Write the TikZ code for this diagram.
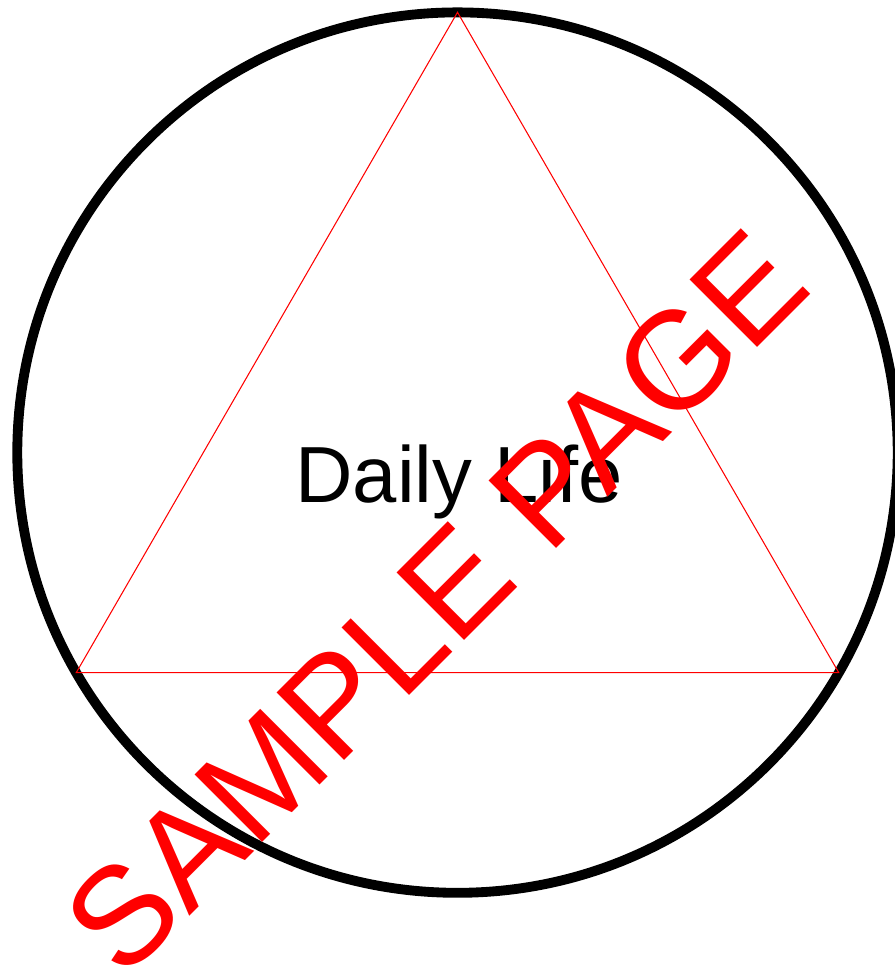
\documentclass[tikz,border=0pt]{standalone}
\usepackage{fontspec}
\setmainfont{Liberation Sans}
\begin{document}
\begin{tikzpicture}[x=0.02cm, y=-0.02cm]
    \useasboundingbox (0,0) rectangle (894,974);
    % Circle with its inscribed equilateral triangle.
    \coordinate (O) at (457.5,452.6);
    \coordinate (top) at (457.5,12.3);
    \coordinate (left) at (76.2,672.7);
    \coordinate (right) at (838.8,672.7);
    \draw[line width=5.6pt] (O) circle[radius=8.806cm];
    \draw[red, line width=0.6pt, line join=miter] (top) -- (left) -- (right) -- cycle;
    \node[anchor=base, inner sep=0pt, font=\fontsize{45.3}{50}\selectfont] (life) at (459,502) {Daily Life};
    % Watermark over the whole figure.
    \node[anchor=base, inner sep=0pt, rotate=45, text=red, font=\fontsize{79}{85}\selectfont] (sample) at (469,636) {SAMPLE PAGE};
\end{tikzpicture}
\end{document}
